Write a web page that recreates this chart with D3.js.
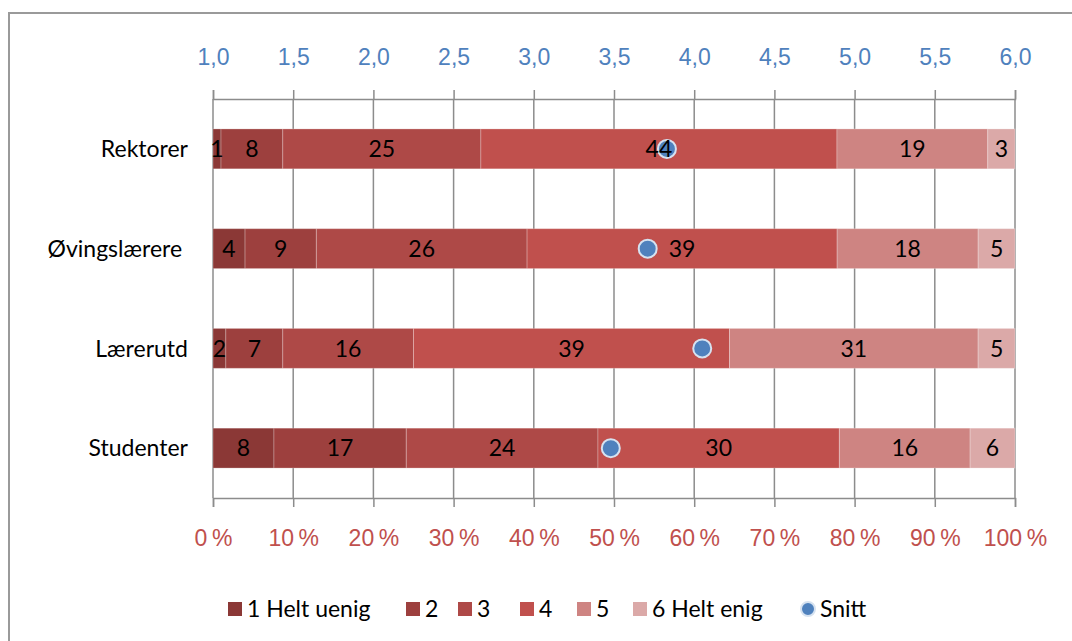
<!DOCTYPE html>
<html>
<head>
<meta charset="utf-8">
<script src="https://cdn.jsdelivr.net/npm/d3@7"></script>
<style>
  body { margin: 0; background: #fff; }
  svg { display: block; font-family: Lato, "Open Sans", sans-serif; }
</style>
</head>
<body>
<svg id="chart" width="1072" height="641"></svg>
<script>
// categories (top to bottom)
var categories = ["Rektorer", "Øvingslærere\u00a0", "Lærerutd", "Studenter"];
var seriesNames = ["1 Helt uenig", "2", "3", "4", "5", "6 Helt enig"];

// share per answer, in percent, per category
var helt_uenig = [1.0, 4.0, 1.6, 7.6];
var svar2 = [7.7, 8.9, 7.1, 16.5];
var svar3 = [24.7, 26.3, 16.3, 23.9];
var svar4 = [44.4, 38.7, 39.4, 30.1];
var svar5 = [18.8, 17.6, 31.0, 16.3];
var helt_enig = [3.4, 4.6, 4.6, 5.6];

// mean score on the 1-6 scale
var snitt = [3.83, 3.71, 4.05, 3.48];

var topTicks = [1, 1.5, 2, 2.5, 3, 3.5, 4, 4.5, 5, 5.5, 6];
var pctTicks = [0, 0.1, 0.2, 0.3, 0.4, 0.5, 0.6, 0.7, 0.8, 0.9, 1];

var colors = ["#8b3836", "#9d403e", "#ae4947", "#c0504d", "#ce8482", "#dba9a8"];
var FONT = "23px";

var svg = d3.select("#chart");

// outer frame of the chart area
svg.append("rect")
    .attr("x", 9).attr("y", 13)
    .attr("width", 1080).attr("height", 650)
    .attr("fill", "none").attr("stroke", "#9a9a9a").attr("stroke-width", 2);

var x0 = 213, x1 = 1015, yTop = 99, yBottom = 498;

var xPct = d3.scaleLinear().domain([0, 1]).range([x0, x1]);
var xScore = d3.scaleLinear().domain([1, 6]).range([x0, x1]);
var y = d3.scaleBand().domain(categories).range([yTop, yBottom])
    .paddingInner(0.6).paddingOuter(0.3);

var rows = categories.map(function (c, i) {
    return {
        cat: c,
        s0: helt_uenig[i], s1: svar2[i], s2: svar3[i],
        s3: svar4[i], s4: svar5[i], s5: helt_enig[i],
        snitt: snitt[i]
    };
});
var keys = ["s0", "s1", "s2", "s3", "s4", "s5"];
var stacked = d3.stack().keys(keys).offset(d3.stackOffsetExpand)(rows);

// vertical gridlines
svg.append("g").selectAll("line")
    .data(pctTicks)
    .join("line")
    .attr("x1", function (d) { return xPct(d); })
    .attr("x2", function (d) { return xPct(d); })
    .attr("y1", yTop).attr("y2", yBottom)
    .attr("stroke", "#8c8c8c").attr("stroke-width", 1.5);

// axes
var topAxis = d3.axisTop(xScore).tickValues(topTicks).tickSize(9).tickSizeOuter(9)
    .tickFormat(function (d) { return d3.format(".1f")(d).replace(".", ","); });
var bottomAxis = d3.axisBottom(xPct).tickValues(pctTicks).tickSize(9).tickSizeOuter(9)
    .tickFormat(function (d) { return Math.round(d * 100) + "\u2009%"; });

var gTop = svg.append("g").attr("transform", "translate(0," + yTop + ")").call(topAxis);
var gBottom = svg.append("g").attr("transform", "translate(0," + yBottom + ")").call(bottomAxis);

[gTop, gBottom].forEach(function (g) {
    g.selectAll("path, line").attr("stroke", "#8c8c8c").attr("stroke-width", 1.5);
    g.selectAll("text").style("font-size", FONT).attr("font-family", null);
});
gTop.selectAll("text").attr("fill", "#4f81bd").attr("y", -34);
gBottom.selectAll("text").attr("fill", "#c0504d").attr("y", 32);

// stacked bars
var layers = svg.append("g").selectAll("g")
    .data(stacked)
    .join("g")
    .attr("fill", function (d, i) { return colors[i]; });

layers.selectAll("rect")
    .data(function (d) { return d; })
    .join("rect")
    .attr("x", function (d) { return xPct(d[0]); })
    .attr("width", function (d) { return xPct(d[1]) - xPct(d[0]); })
    .attr("y", function (d) { return y(d.data.cat); })
    .attr("height", y.bandwidth())
    .attr("stroke", "rgba(255,255,255,0.25)").attr("stroke-width", 1);

// mean markers
svg.append("g").selectAll("circle")
    .data(rows)
    .join("circle")
    .attr("cx", function (d) { return xScore(d.snitt); })
    .attr("cy", function (d) { return y(d.cat) + y.bandwidth() / 2; })
    .attr("r", 9)
    .attr("fill", "#4f81bd")
    .attr("stroke", "#d6e2f0").attr("stroke-width", 2);

// value labels, drawn over the markers
var labelGroups = svg.append("g").selectAll("g")
    .data(stacked)
    .join("g");

labelGroups.selectAll("text")
    .data(function (d) { return d.map(function (p) { return {p: p, v: p.data[d.key]}; }); })
    .join("text")
    .attr("x", function (d) { return (xPct(d.p[0]) + xPct(d.p[1])) / 2; })
    .attr("y", function (d) { return y(d.p.data.cat) + y.bandwidth() / 2; })
    .attr("dy", "0.36em")
    .attr("text-anchor", "middle")
    .attr("fill", "#000")
    .style("font-size", FONT)
    .text(function (d) { return d3.format(".0f")(d.v); });

// category labels
svg.append("g").selectAll("text")
    .data(categories)
    .join("text")
    .attr("x", 188)
    .attr("y", function (d) { return y(d) + y.bandwidth() / 2; })
    .attr("dy", "0.36em")
    .attr("text-anchor", "end")
    .style("font-size", FONT)
    .text(function (d) { return d; });

// legend
var legendX = [228, 406, 458, 520, 577, 633];
var legendY = 609;
var legend = svg.append("g");
seriesNames.forEach(function (name, i) {
    legend.append("rect")
        .attr("x", legendX[i]).attr("y", legendY - 7)
        .attr("width", 14).attr("height", 14)
        .attr("fill", colors[i]);
    legend.append("text")
        .attr("x", legendX[i] + 19).attr("y", legendY)
        .attr("dy", "0.36em")
        .style("font-size", FONT)
        .text(name);
});
legend.append("circle")
    .attr("cx", 808).attr("cy", legendY).attr("r", 7)
    .attr("fill", "#4f81bd").attr("stroke", "#d6e2f0").attr("stroke-width", 2);
legend.append("text")
    .attr("x", 820).attr("y", legendY).attr("dy", "0.36em")
    .style("font-size", FONT)
    .text("Snitt");
</script>
</body>
</html>
